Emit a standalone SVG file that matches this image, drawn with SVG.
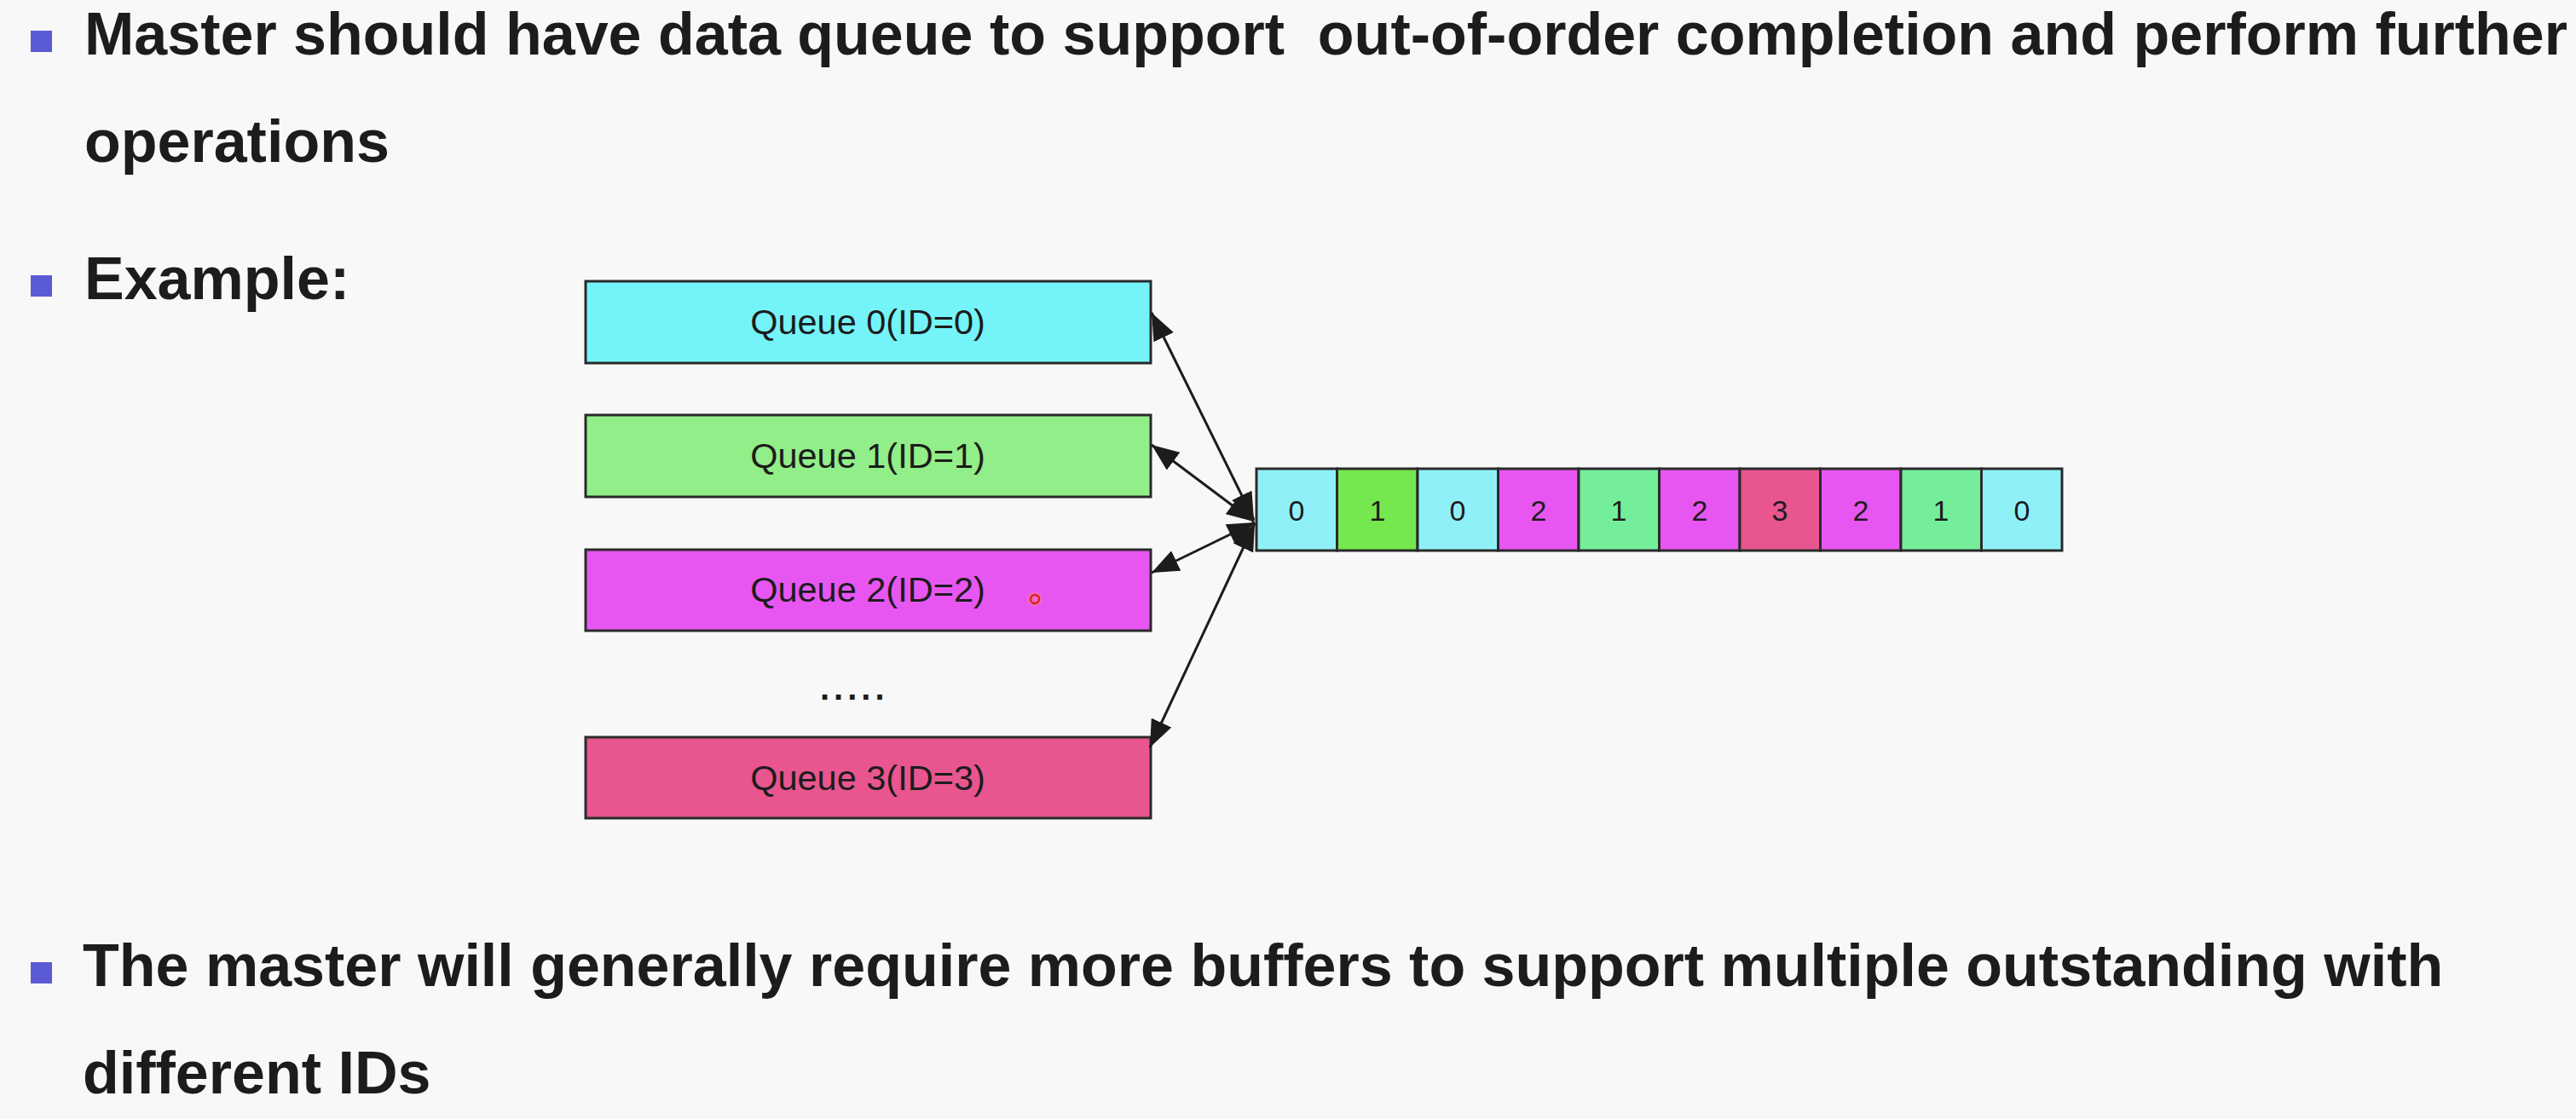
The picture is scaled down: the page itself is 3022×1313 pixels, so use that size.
<svg xmlns="http://www.w3.org/2000/svg" width="3022" height="1313" viewBox="0 0 3022 1313">
<defs>
<style>
.bg{fill:#f8f8f8}
.bullet{fill:#5a5ad4}
.head{font-family:"Liberation Sans",Arial,sans-serif;font-weight:bold;font-size:70px;fill:#1c1c1c}
.qbox{stroke:#2a2a2a;stroke-width:3}
.qlabel{font-family:"Liberation Sans",Arial,sans-serif;font-size:41.5px;fill:#1c1c1c;text-anchor:middle}
.cell{stroke:#2a2a2a;stroke-width:3}
.digit{font-family:"Liberation Sans",Arial,sans-serif;font-size:34px;fill:#1c1c1c;text-anchor:middle}
.conn{stroke:#1c1c1c;stroke-width:3;fill:none;marker-start:url(#ah);marker-end:url(#ah)}
</style>
<marker id="ah" markerUnits="userSpaceOnUse" markerWidth="34" markerHeight="26" refX="32" refY="13" orient="auto-start-reverse" viewBox="0 0 34 26">
<path d="M0,0 L32,13 L0,26 z" fill="#1c1c1c"/>
</marker>
</defs>
<rect class="bg" x="0" y="0" width="3022" height="1313"/>

<g id="text-top">
<rect class="bullet" x="36" y="36" width="25" height="25"/>
<text class="head" x="99" y="64" xml:space="preserve">Master should have data queue to support  out-of-order completion and perform further</text>
<text class="head" x="99" y="190">operations</text>
<rect class="bullet" x="36" y="323" width="25" height="25"/>
<text class="head" x="99" y="351">Example:</text>
</g>

<g id="queue0"><rect class="qbox" x="687" y="330" width="663" height="96" fill="#74f4f8"/><text class="qlabel" x="1018" y="392">Queue 0(ID=0)</text></g>
<g id="queue1"><rect class="qbox" x="687" y="487" width="663" height="96" fill="#92ee88"/><text class="qlabel" x="1018" y="549">Queue 1(ID=1)</text></g>
<g id="queue2"><rect class="qbox" x="687" y="645" width="663" height="95" fill="#e856f2"/><text class="qlabel" x="1018" y="706">Queue 2(ID=2)</text></g>
<g id="dots"><text x="962" y="821" style="font-family:'Liberation Sans',Arial,sans-serif;font-size:40px;font-weight:bold;fill:#1c1c1c;letter-spacing:5px">.....</text></g>
<g id="queue3"><rect class="qbox" x="687" y="865" width="663" height="95" fill="#e8558f"/><text class="qlabel" x="1018" y="927">Queue 3(ID=3)</text></g>

<g id="cursor"><circle cx="1214" cy="703" r="9" fill="#f47aa0" opacity="0.5"/><circle cx="1214" cy="703" r="5" fill="none" stroke="#e02020" stroke-width="2.5"/></g>

<g id="cells">
<rect class="cell" x="1474" y="550" width="94.5" height="96" fill="#90f0f8"/>
<rect class="cell" x="1568.5" y="550" width="94.5" height="96" fill="#74e84e"/>
<rect class="cell" x="1663" y="550" width="94.5" height="96" fill="#90f0f8"/>
<rect class="cell" x="1757.5" y="550" width="94.5" height="96" fill="#e856f2"/>
<rect class="cell" x="1852" y="550" width="94.5" height="96" fill="#74ee9a"/>
<rect class="cell" x="1946.5" y="550" width="94.5" height="96" fill="#e856f2"/>
<rect class="cell" x="2041" y="550" width="94.5" height="96" fill="#e8558f"/>
<rect class="cell" x="2135.5" y="550" width="94.5" height="96" fill="#e856f2"/>
<rect class="cell" x="2230" y="550" width="94.5" height="96" fill="#74ee9a"/>
<rect class="cell" x="2324.5" y="550" width="94.5" height="96" fill="#90f0f8"/>
<text class="digit" x="1521" y="611">0</text>
<text class="digit" x="1616" y="611">1</text>
<text class="digit" x="1710" y="611">0</text>
<text class="digit" x="1805" y="611">2</text>
<text class="digit" x="1899" y="611">1</text>
<text class="digit" x="1994" y="611">2</text>
<text class="digit" x="2088" y="611">3</text>
<text class="digit" x="2183" y="611">2</text>
<text class="digit" x="2277" y="611">1</text>
<text class="digit" x="2372" y="611">0</text>
</g>

<g id="connectors">
<line class="conn" x1="1351" y1="367" x2="1471" y2="610"/>
<line class="conn" x1="1351" y1="522" x2="1471" y2="612"/>
<line class="conn" x1="1351" y1="672" x2="1472" y2="613"/>
<line class="conn" x1="1349" y1="877" x2="1472" y2="614"/>
</g>

<g id="text-bottom">
<rect class="bullet" x="36" y="1129" width="25" height="25"/>
<text class="head" x="97" y="1157">The master will generally require more buffers to support multiple outstanding with</text>
<text class="head" x="97" y="1283">different IDs</text>
</g>
</svg>
